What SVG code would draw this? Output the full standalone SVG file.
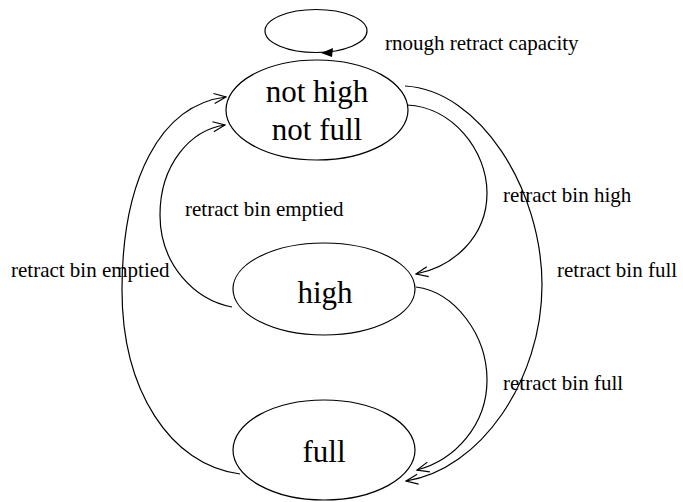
<svg xmlns="http://www.w3.org/2000/svg" width="683" height="502" viewBox="0 0 683 502">
  <style>
    .node { fill: #ffffff; stroke: #000000; stroke-width: 1.2; }
    .edge { fill: none; stroke: #000000; stroke-width: 1.2; }
    .state { font-size: 31px; fill: #000000; text-anchor: middle; }
    .label { font-size: 21px; fill: #000000; }
  </style>
  <defs>
    <marker id="open-arrow" viewBox="0 0 14 12" refX="13" refY="6" markerWidth="14" markerHeight="12" markerUnits="userSpaceOnUse" orient="auto">
      <path d="M1,1 L13,6 L1,11" fill="none" stroke="#000000" stroke-width="1.2"/>
    </marker>
  </defs>

  <g font-family="'Liberation Serif', 'DejaVu Serif', 'Times New Roman', serif">
  <g id="connectors">
    <!-- self-loop on the top state -->
    <g id="edge-capacity">
      <ellipse class="edge" cx="316" cy="31" rx="51" ry="21.5"/>
      <path d="M321,53 L333,48 L332,57 Z" fill="#000000"/>
      <text class="label" x="385" y="50">rnough retract capacity</text>
    </g>
    <!-- not high not full -> high -->
    <g id="edge-bin-high">
      <path class="edge" d="M407,105 C452,107 487,150 487,193 C487,238 452,267 416,274" marker-end="url(#open-arrow)"/>
      <text class="label" x="503" y="202">retract bin high</text>
    </g>
    <!-- not high not full -> full -->
    <g id="edge-bin-full-outer">
      <path class="edge" d="M405,86 C480,90 542,190 542,285 C542,380 480,470 406,481" marker-end="url(#open-arrow)"/>
      <text class="label" x="557" y="277">retract bin full</text>
    </g>
    <!-- high -> full -->
    <g id="edge-bin-full-inner">
      <path class="edge" d="M416,287 C455,292 487,335 487,380 C487,425 455,460 417,470" marker-end="url(#open-arrow)"/>
      <text class="label" x="503" y="390">retract bin full</text>
    </g>
    <!-- high -> not high not full -->
    <g id="edge-emptied-inner">
      <path class="edge" d="M232,307 C195,300 160,265 160,215 C160,165 190,130 225,125" marker-end="url(#open-arrow)"/>
      <text class="label" x="185" y="216">retract bin emptied</text>
    </g>
    <!-- full -> not high not full -->
    <g id="edge-emptied-outer">
      <path class="edge" d="M240,474 C170,465 122,390 122,290 C122,180 160,105 226,97" marker-end="url(#open-arrow)"/>
      <text class="label" x="11" y="277">retract bin emptied</text>
    </g>
  </g>

  <g id="node-not-high-not-full">
    <ellipse class="node" cx="317" cy="110" rx="91" ry="50"/>
    <text class="state" x="317" y="102">not high</text>
    <text class="state" x="317" y="140">not full</text>
  </g>

  <g id="node-high">
    <ellipse class="node" cx="324" cy="289" rx="91" ry="46"/>
    <text class="state" x="325" y="303">high</text>
  </g>

  <g id="node-full">
    <ellipse class="node" cx="324" cy="450" rx="91" ry="50"/>
    <text class="state" x="324" y="462">full</text>
  </g>
  </g>
</svg>
